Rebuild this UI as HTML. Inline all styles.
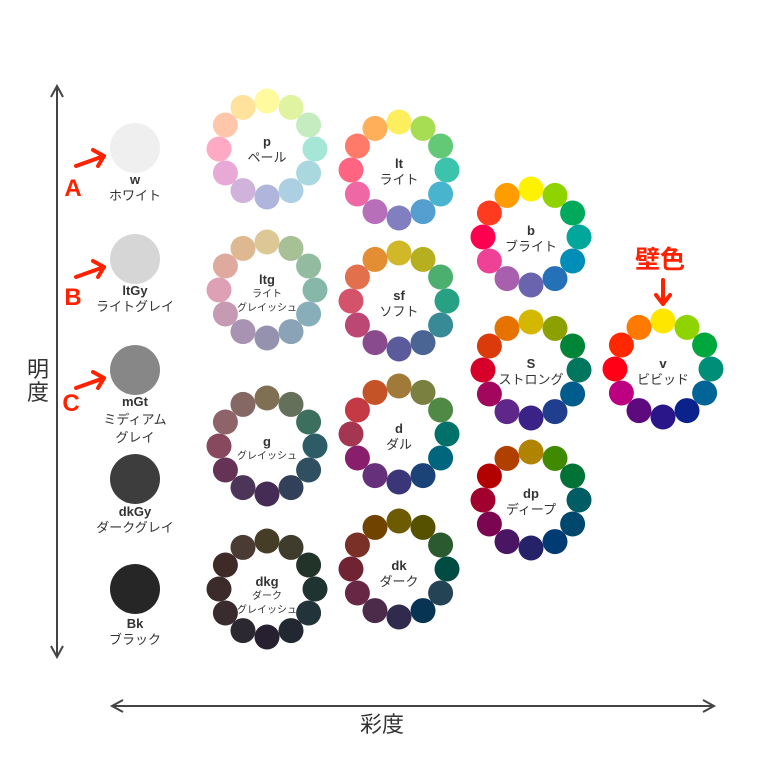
<!DOCTYPE html>
<html><head><meta charset="utf-8"><style>
html,body{margin:0;padding:0;background:#fff;}
svg{display:block;font-family:"Liberation Sans","Noto Sans CJK JP",sans-serif;}
.c{font-weight:bold;font-size:13px;fill:#333;text-anchor:middle}
.j{font-size:13px;fill:#333;text-anchor:middle}
.s{font-size:10px;fill:#333;text-anchor:middle}
</style></head><body>
<svg id="s" width="760" height="760" viewBox="0 0 760 760" xmlns="http://www.w3.org/2000/svg">
<defs>
<marker id="ah" markerWidth="10" markerHeight="12" refX="0" refY="0" orient="auto" viewBox="-10 -7 12 14"><path d="M-8,-6 L0,0 L-8,6" fill="none" stroke="#333" stroke-width="1.6"/></marker>
</defs>
<!-- axes -->
<line x1="57" y1="88" x2="57" y2="655" stroke="#444" stroke-width="2"/>
<path d="M51,97 L57,86 L63,97 M51,646 L57,657 L63,646" fill="none" stroke="#444" stroke-width="2"/>
<line x1="113" y1="706" x2="713" y2="706" stroke="#444" stroke-width="2"/>
<path d="M123,700 L112,706 L123,712 M703,700 L714,706 L703,712" fill="none" stroke="#444" stroke-width="2"/>
<text x="38" y="377" font-size="22" fill="#333" text-anchor="middle">明</text>
<text x="38" y="400" font-size="22" fill="#333" text-anchor="middle">度</text>
<text x="382" y="732" font-size="22" fill="#333" text-anchor="middle">彩度</text>

<!-- grays -->
<circle cx="135" cy="148" r="25" fill="#efefef"/>
<text class="c" x="135" y="184">w</text><text class="j" x="135" y="200">ホワイト</text>
<circle cx="135" cy="259" r="25" fill="#d6d6d6"/>
<text class="c" x="135" y="295">ltGy</text><text class="j" x="135" y="311">ライトグレイ</text>
<circle cx="135" cy="370" r="25" fill="#878787"/>
<text class="c" x="135" y="406">mGt</text><text class="j" x="135" y="424">ミディアム</text><text class="j" x="135" y="442">グレイ</text>
<circle cx="135" cy="479" r="25" fill="#3d3d3d"/>
<text class="c" x="135" y="516">dkGy</text><text class="j" x="135" y="532">ダークグレイ</text>
<circle cx="135" cy="589" r="25" fill="#262626"/>
<text class="c" x="135" y="628">Bk</text><text class="j" x="135" y="644">ブラック</text>

<!-- red annotations -->
<g stroke="#ff2200" stroke-width="4" fill="none" stroke-linecap="round" stroke-linejoin="round">
<path d="M76,166 L104,156 M93,150 L104,156 L98,166"/>
<path d="M76,277 L104,267 M93,261 L104,267 L98,277"/>
<path d="M76,388 L104,378 M93,372 L104,378 L98,388"/>
<path d="M663,280 L663,303 M656,295 L663,304 L670,295"/>
</g>
<g fill="#ff2200" font-weight="bold" font-size="24" text-anchor="middle">
<text x="73" y="196">A</text><text x="73" y="305">B</text><text x="71" y="411">C</text>
<text x="660" y="268" font-size="25">壁色</text>
</g>

<g id="wheels"></g>

<g>
<text class="c" x="267" y="146">p</text><text class="j" x="267" y="162">ペール</text>
<text class="c" x="399" y="168">lt</text><text class="j" x="399" y="184">ライト</text>
<text class="c" x="267" y="284">ltg</text><text class="s" x="267" y="297">ライト</text><text class="s" x="267" y="311">グレイッシュ</text>
<text class="c" x="399" y="300">sf</text><text class="j" x="399" y="316">ソフト</text>
<text class="c" x="531" y="235">b</text><text class="j" x="531" y="251">ブライト</text>
<text class="c" x="531" y="368">S</text><text class="j" x="531" y="384">ストロング</text>
<text class="c" x="663" y="368">v</text><text class="j" x="663" y="384">ビビッド</text>
<text class="c" x="531" y="498">dp</text><text class="j" x="531" y="514">ディープ</text>
<text class="c" x="267" y="446">g</text><text class="s" x="267" y="459">グレイッシュ</text>
<text class="c" x="399" y="433">d</text><text class="j" x="399" y="449">ダル</text>
<text class="c" x="267" y="586">dkg</text><text class="s" x="267" y="599">ダーク</text><text class="s" x="267" y="613">グレイッシュ</text>
<text class="c" x="399" y="570">dk</text><text class="j" x="399" y="586">ダーク</text>
</g>
</svg>
<script>
var W=[
[267,149,"#fffa9e #e0f3a0 #c4ecc0 #a6e6d6 #a9d8de #accfe1 #b0b6db #d0b2da #e9a9d6 #ffaac4 #ffc6aa #ffe29b"],
[399,170,"#fdee5e #a7dd52 #63c977 #3bc3ac #48b4ce #549fcf #827fc0 #b86fba #ef68a5 #ff6480 #ff7a68 #ffae5a"],
[267,290,"#dec797 #a8c096 #93bb9f #87b7a8 #87aeb9 #8aa3b6 #9592b0 #a893b3 #c79ab3 #dea0b5 #deaa9e #deb891"],
[399,301,"#d0b828 #b6b021 #4caf70 #27a083 #388b96 #4a6494 #5b5a9a #8a4a8e #bc4774 #d4536a #e3704d #e38e32"],
[531,237,"#fff200 #8fd400 #00a95c #00a79a #008db8 #2571b8 #6a63ae #a75fae #ef4196 #ff0051 #ff3b1f #ff9c00"],
[531,370,"#d4b800 #8ca000 #008437 #00765f #005c8c #1f3e8e #3b2286 #5e2789 #a2065d #d6002a #db3b0b #e67300"],
[663,369,"#ffe600 #8fd400 #00a73c #008e78 #006496 #0b228c #2b1689 #5d0a7e #bc0081 #ff0017 #ff2800 #ff7a00"],
[531,500,"#b08300 #3f8a00 #007236 #005d63 #00476d #003b73 #25226a #4a1562 #7b0550 #a2002f #b30000 #b04000"],
[267,446,"#7f6f53 #64705a #3d6f5e #2d5c67 #305062 #32405a #452c55 #4c3559 #643355 #88495f #8f636a #856763"],
[399,434,"#a07a38 #7a8040 #508845 #00706a #00667e #1c4378 #3b3678 #66307a #891f6c #a53652 #c53944 #c45428"],
[267,589,"#453d26 #3f3c2e #223329 #1f3330 #22343a #222831 #262030 #2c2832 #3a2b2e #3b2b2b #3e2a27 #4a3c35"],
[399,569,"#6c5b00 #555100 #2c5a30 #004c42 #244456 #063452 #302a4c #4c2b4a #682845 #6f2333 #7a3026 #704300"]];
var g=document.getElementById("wheels"),h="";
W.forEach(function(w){var c=w[2].split(" ");for(var k=0;k<12;k++){var a=k*Math.PI/6;
h+='<circle cx="'+(w[0]+48*Math.sin(a)).toFixed(1)+'" cy="'+(w[1]-48*Math.cos(a)).toFixed(1)+'" r="12.5" fill="'+c[k]+'"/>';}});
g.innerHTML=h;
</script>
</body></html>
